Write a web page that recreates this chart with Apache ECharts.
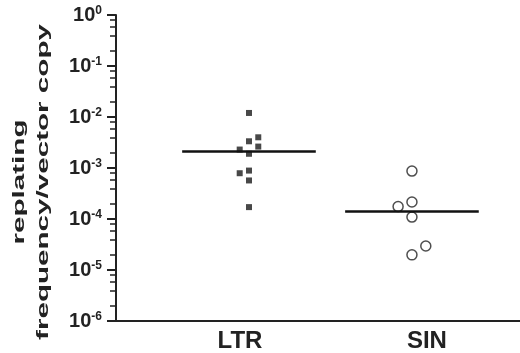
<!DOCTYPE html>
<html><head><meta charset="utf-8">
<script src="https://cdn.jsdelivr.net/npm/echarts@6/dist/echarts.min.js"></script>
<style>html,body{margin:0;padding:0;background:#fff}#c{width:520px;height:353px}</style>
</head><body><div id="c"></div>
<script>
// Data
var categories = ['LTR', 'SIN'];
var ltrValues = [0.0120, 0.00334, 0.0040, 0.00263, 0.0023, 0.0019, 0.00079, 0.00089, 0.00057, 0.000171];
var ltrJitter = [0, 0, 1, 1, -1, 0, -1, 0, 0, 0];
var sinValues = [0.00087, 0.000215, 0.000175, 0.000109, 0.0000296, 0.0000198];
var sinJitter = [0, 0, -1, 0, 1, 0];
var medians = [0.0021, 0.000141];
var yTickExponents = [0, -1, -2, -3, -4, -5, -6];

var ink = '#222';
var catX = [1, 2];
var jitterStep = [0.057, 0.085];
var halfWidth = 0.41;
var labelX = [0.945, 2.092];

function pts(vals, jit, ci) {
  return vals.map(function (v, i) { return [catX[ci] + jit[i] * jitterStep[ci], v]; });
}
var minorVals = [];
for (var e = -6; e < 0; e++) { [2, 4, 6, 8].forEach(function (m) { minorVals.push(m * Math.pow(10, e)); }); }

var chart = echarts.init(document.getElementById('c'), null, {renderer: 'canvas'});
chart.setOption({
  animation: false,
  backgroundColor: '#fff',
  grid: {left: 116, right: 0, top: 15, bottom: 31},
  xAxis: [{
    type: 'value', min: 0.184, max: 2.663,
    splitLine: {show: false},
    axisLine: {show: true, lineStyle: {color: ink, width: 2}},
    axisTick: {show: false},
    axisLabel: {
      customValues: labelX, margin: 8,
      color: ink, fontFamily: 'Liberation Sans, Arial, sans-serif', fontWeight: 'bold', fontSize: 24,
      formatter: function (v) {
        var best = 0;
        for (var i = 1; i < labelX.length; i++) if (Math.abs(labelX[i] - v) < Math.abs(labelX[best] - v)) best = i;
        return categories[best];
      }
    }
  }],
  yAxis: [{
    type: 'log', logBase: 10, min: 1e-6, max: 1, interval: 1,
    splitLine: {show: false},
    axisLine: {show: true, lineStyle: {color: ink, width: 2}},
    axisTick: {show: true, inside: false, length: 9, lineStyle: {color: ink, width: 2}},
    axisLabel: {
      margin: 14, color: ink,
      formatter: function (v) {
        var ex = Math.round(Math.log(v) / Math.LN10);
        return '{b|10}{s|' + (ex === 0 ? '0' : '-' + Math.abs(ex)) + '}';
      },
      rich: {
        b: {fontFamily: 'Liberation Sans, Arial, sans-serif', fontWeight: 'bold', fontSize: 20, lineHeight: 20, color: ink},
        s: {fontFamily: 'Liberation Sans, Arial, sans-serif', fontWeight: 'bold', fontSize: 12, lineHeight: 12, verticalAlign: 'top', color: ink}
      }
    }
  }, {
    type: 'log', logBase: 10, min: 1e-6, max: 1, position: 'left',
    splitLine: {show: false},
    axisLine: {show: false},
    axisLabel: {show: false},
    axisTick: {show: true, inside: false, length: 6, customValues: minorVals, lineStyle: {color: ink, width: 1.5}}
  }],
  graphic: [{
    type: 'text', x: 31, y: 182, rotation: Math.PI / 2, scaleX: 1.85, scaleY: 1.05,
    style: {
      text: 'replating\nfrequency/vector copy',
      fontFamily: 'Liberation Sans, Arial, sans-serif', fontWeight: 'bold', fontSize: 16,
      lineHeight: 23, fill: ink,
      textAlign: 'center', textVerticalAlign: 'middle', align: 'center', verticalAlign: 'middle'
    }
  }],
  series: [{
    type: 'scatter', name: 'LTR', symbol: 'rect', symbolSize: 6,
    itemStyle: {color: '#1a1a1a'},
    data: pts(ltrValues, ltrJitter, 0), z: 3
  }, {
    type: 'scatter', name: 'SIN', symbol: 'circle', symbolSize: 10,
    itemStyle: {color: '#fff', borderColor: ink, borderWidth: 1.5},
    data: pts(sinValues, sinJitter, 1), z: 3
  }, {
    type: 'line', symbol: 'none', z: 4,
    lineStyle: {color: '#111', width: 2.5},
    data: [[catX[0] - halfWidth, medians[0]], [catX[0] + halfWidth, medians[0]]]
  }, {
    type: 'line', symbol: 'none', z: 4,
    lineStyle: {color: '#111', width: 2.5},
    data: [[catX[1] - halfWidth, medians[1]], [catX[1] + halfWidth, medians[1]]]
  }]
});
</script></body></html>
